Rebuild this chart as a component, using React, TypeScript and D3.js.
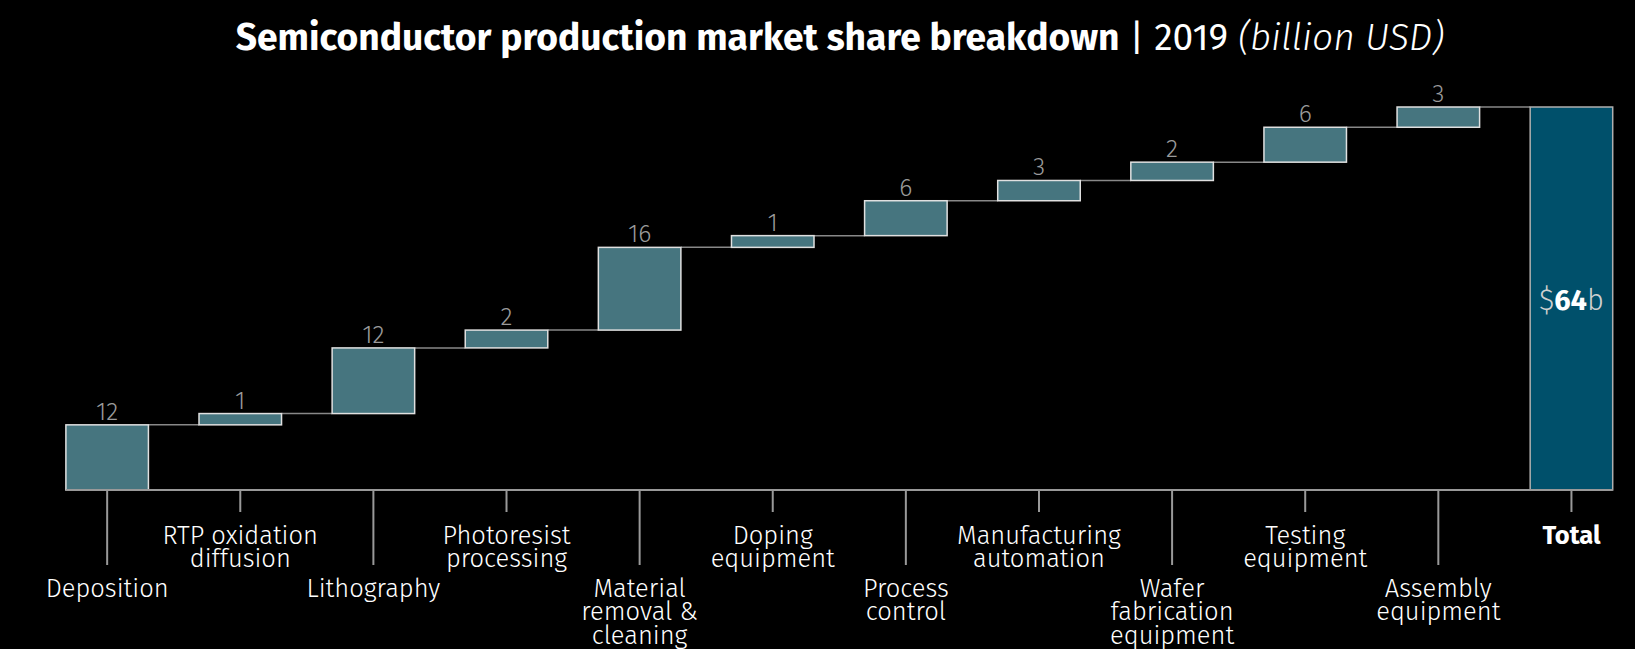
import React, { useEffect } from "react";
import * as d3 from "d3";

// ---- data ----
const categories = [
  "Deposition",
  "RTP oxidation diffusion",
  "Lithography",
  "Photoresist processing",
  "Material removal & cleaning",
  "Doping equipment",
  "Process control",
  "Manufacturing automation",
  "Wafer fabrication equipment",
  "Testing equipment",
  "Assembly equipment",
];
const labelLines = [
  ["Deposition"],
  ["RTP oxidation", "diffusion"],
  ["Lithography"],
  ["Photoresist", "processing"],
  ["Material", "removal &", "cleaning"],
  ["Doping", "equipment"],
  ["Process", "control"],
  ["Manufacturing", "automation"],
  ["Wafer", "fabrication", "equipment"],
  ["Testing", "equipment"],
  ["Assembly", "equipment"],
];
// billion USD
const values = [12.0, 0.96, 12.1, 2.3, 15.6, 1.05, 5.8, 2.8, 2.4, 5.8, 2.8];
const totalName = "Total";

const titleBold = "Semiconductor production market share breakdown";
const titleYear = " | 2019 ";
const titleUnit = "(billion USD)";

// ---- layout / style ----
const W = 1635;
const H = 649;
const baseline = 490;
const plotTop = 107;
const stepPad = 6.6;
const FONT = "'Fira Sans', 'Open Sans', 'Noto Sans', sans-serif";
const barFill = "#46757f";
const totalFill = "#00506b";

export default function App() {
  useEffect(() => {
    document.body.style.margin = "0";
    document.body.style.background = "#000";
  }, []);

  const domain = [...categories, totalName];
  const x = d3
    .scaleBand<string>()
    .domain(domain)
    .range([40.6, 1638])
    .paddingInner(0.38)
    .paddingOuter(0.19);
  const bw = x.bandwidth();

  const total = d3.sum(values);
  const n = values.length;
  const h = d3
    .scaleLinear()
    .domain([0, total])
    .range([0, baseline - plotTop - n * stepPad]);

  const cums = d3.cumsum(values);
  const bars = values.map((v, i) => {
    const before = i === 0 ? 0 : cums[i - 1];
    const bottom = baseline - (h(before) + i * stepPad);
    const top = bottom - (h(v) + stepPad);
    return { name: categories[i], v, top, bottom };
  });

  const lineGap = 23.3;
  const totalTop = baseline - (h(total) + n * stepPad);

  return (
    <svg
      width={W}
      height={H}
      style={{ position: "absolute", left: 0, top: 0, display: "block", background: "#000" }}
      fontFamily={FONT}
    >
      <rect x={0} y={0} width={W} height={H} fill="#000" />
      {/* title */}
      <text x={840} y={50} textAnchor="middle" fill="#fff" fontSize={37.2}>
        <tspan fontWeight={700}>{titleBold}</tspan>
        <tspan fontWeight={400} xmlSpace="preserve">{titleYear}</tspan>
        <tspan fontWeight={300} fontStyle="italic">{titleUnit}</tspan>
      </text>

      {/* connectors */}
      {bars.map((b, i) => {
        const nextName = i < n - 1 ? categories[i + 1] : totalName;
        return (
          <line
            key={"c" + i}
            x1={(x(b.name) as number) + bw}
            x2={x(nextName) as number}
            y1={b.top}
            y2={b.top}
            stroke="#888"
            strokeWidth={1.5}
          />
        );
      })}

      {/* bars */}
      {bars.map((b, i) => (
        <g key={"b" + i}>
          <rect
            x={x(b.name) as number}
            y={b.top}
            width={bw}
            height={b.bottom - b.top}
            fill={barFill}
            stroke="#e0e0e0"
            strokeWidth={1.5}
          />
          <text
            x={(x(b.name) as number) + bw / 2}
            y={b.top - 5}
            textAnchor="middle"
            fill="#9a9a9a"
            fontSize={25}
            fontWeight={300}
          >
            {Math.round(b.v)}
          </text>
        </g>
      ))}

      {/* total bar */}
      <rect
        x={x(totalName) as number}
        y={totalTop}
        width={bw}
        height={baseline - totalTop}
        fill={totalFill}
        stroke="#b0b0b0"
        strokeWidth={1.5}
      />
      <text
        x={(x(totalName) as number) + bw / 2}
        y={(baseline + totalTop) / 2 + 11}
        textAnchor="middle"
        fontSize={29}
      >
        <tspan fill="#d0d0d0" fontWeight={300}>$</tspan>
        <tspan fill="#fff" fontWeight={700}>{Math.round(total)}</tspan>
        <tspan fill="#d0d0d0" fontWeight={300}>b</tspan>
      </text>

      {/* axis */}
      <line
        x1={x(domain[0]) as number}
        x2={(x(totalName) as number) + bw}
        y1={baseline}
        y2={baseline}
        stroke="#999"
        strokeWidth={2}
      />
      {domain.map((d, i) => {
        const cx = (x(d) as number) + bw / 2;
        const long = i % 2 === 0;
        const lines = i < n ? labelLines[i] : [totalName];
        const y0 = long ? 597 : 544;
        return (
          <g key={"t" + i}>
            <line
              x1={cx}
              x2={cx}
              y1={baseline + 1}
              y2={long ? 565 : 512}
              stroke="#999"
              strokeWidth={2}
            />
            <text
              x={cx}
              y={y0}
              textAnchor="middle"
              fill="#fff"
              fontSize={25.5}
              fontWeight={i < n ? 300 : 700}
            >
              {lines.map((l, j) => (
                <tspan key={j} x={cx} y={y0 + j * lineGap}>
                  {l}
                </tspan>
              ))}
            </text>
          </g>
        );
      })}
    </svg>
  );
}
